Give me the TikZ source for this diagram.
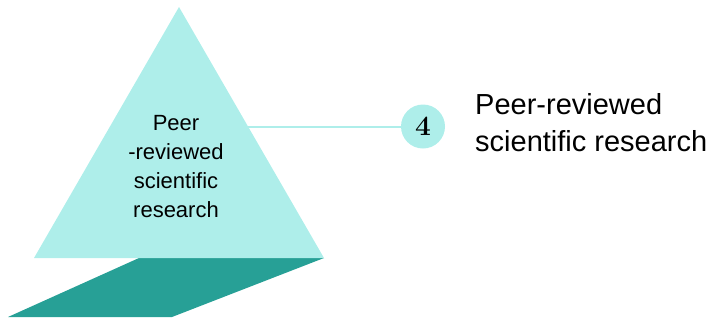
\documentclass[tikz,border=0pt]{standalone}
\usepackage{fontspec}
\setsansfont{Liberation Sans}
\definecolor{lightcyan}{HTML}{AEEEEA}
\definecolor{darkteal}{HTML}{27A096}
\begin{document}
\begin{tikzpicture}[x=1pt,y=-1pt,
  tritext/.style={font=\sffamily\fontsize{22}{29}\selectfont,align=center,text=black},
  sidetext/.style={font=\sffamily\fontsize{29}{37}\selectfont,align=left,anchor=north west,inner sep=0pt,text=black},
  numcircle/.style={circle,fill=lightcyan,minimum size=44pt,inner sep=0pt,font=\bfseries\fontsize{28}{30}\selectfont},
  connector/.style={draw=lightcyan,line width=2pt}]
\useasboundingbox (0,0) rectangle (716,322);
\fill[darkteal] (139,258) -- (324,258) -- (172,317) -- (8,317) -- cycle;
\fill[lightcyan] (179,7) -- (324,258) -- (34,258) -- cycle;
\node[tritext] (tri) at (176,167) {Peer\\-reviewed\\scientific\\research};
\coordinate (edge) at (247.7,126.5);
\node[numcircle] (num) at (423,126.5) {4};
\draw[connector] (edge) -- (num.west);
\node[sidetext] (label) at (475,93) {Peer-reviewed\\scientific research};
\end{tikzpicture}
\end{document}
